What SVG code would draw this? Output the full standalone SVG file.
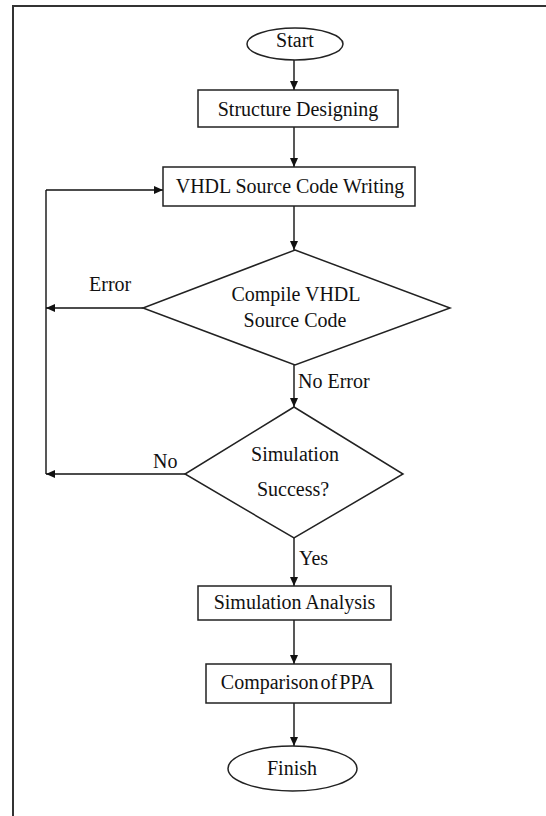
<svg xmlns="http://www.w3.org/2000/svg" width="546" height="816" viewBox="0 0 546 816">
<style>
.shape{fill:#fff;stroke:#222;stroke-width:1.5}
.conn{fill:none;stroke:#111;stroke-width:1.4}
text{font-family:"Liberation Serif","Times New Roman",serif;font-size:20px;fill:#111}
.c{text-anchor:middle}
</style>
<defs>
<marker id="arr" markerWidth="10" markerHeight="8" refX="9" refY="4" orient="auto" markerUnits="userSpaceOnUse">
<path d="M0,0 L9,4 L0,8 Z" fill="#111"/>
</marker>
</defs>
<rect width="546" height="816" fill="#fff"/>
<path d="M13,816 V6 H546" fill="none" stroke="#333" stroke-width="2"/>
<g id="connectors">
<line class="conn" x1="294" y1="60" x2="294" y2="90" marker-end="url(#arr)"/>
<line class="conn" x1="294" y1="127" x2="294" y2="167" marker-end="url(#arr)"/>
<line class="conn" x1="294" y1="206" x2="294" y2="250" marker-end="url(#arr)"/>
<line class="conn" x1="294" y1="365" x2="294" y2="407" marker-end="url(#arr)"/>
<line class="conn" x1="294" y1="538" x2="294" y2="586" marker-end="url(#arr)"/>
<line class="conn" x1="294" y1="620" x2="294" y2="664" marker-end="url(#arr)"/>
<line class="conn" x1="294" y1="703" x2="294" y2="746" marker-end="url(#arr)"/>
<line class="conn" x1="143" y1="308" x2="46" y2="308" marker-end="url(#arr)"/>
<line class="conn" x1="185" y1="474" x2="46" y2="474" marker-end="url(#arr)"/>
<line class="conn" x1="46" y1="474" x2="46" y2="190"/>
<line class="conn" x1="46" y1="190" x2="163" y2="190" marker-end="url(#arr)"/>
<text x="89" y="291">Error</text>
<text x="298" y="388">No Error</text>
<text x="153" y="468">No</text>
<text x="299" y="565">Yes</text>
</g>
<g id="start">
<ellipse class="shape" cx="295" cy="44" rx="48" ry="16"/>
<text class="c" x="295" y="47">Start</text>
</g>
<g id="structure">
<rect class="shape" x="198" y="90" width="200" height="37"/>
<text class="c" x="298" y="116">Structure Designing</text>
</g>
<g id="vhdl">
<rect class="shape" x="163" y="167" width="252" height="39"/>
<text class="c" x="290" y="193">VHDL Source Code Writing</text>
</g>
<g id="compile">
<polygon class="shape" points="295,250 450,308 295,365 143,308"/>
<text class="c" x="296" y="301">Compile VHDL</text>
<text class="c" x="295" y="327">Source Code</text>
</g>
<g id="simulation">
<polygon class="shape" points="294,407 403,474 294,538 185,474"/>
<text class="c" x="295" y="461">Simulation</text>
<text class="c" x="293" y="496">Success?</text>
</g>
<g id="analysis">
<rect class="shape" x="198" y="586" width="193" height="34"/>
<text class="c" x="294.5" y="609">Simulation Analysis</text>
</g>
<g id="comparison">
<rect class="shape" x="206" y="664" width="185" height="39"/>
<text class="c" x="297.5" y="689" word-spacing="-3">Comparison of PPA</text>
</g>
<g id="finish">
<ellipse class="shape" cx="292.5" cy="768.5" rx="64.5" ry="22.5"/>
<text class="c" x="292" y="775">Finish</text>
</g>
</svg>
